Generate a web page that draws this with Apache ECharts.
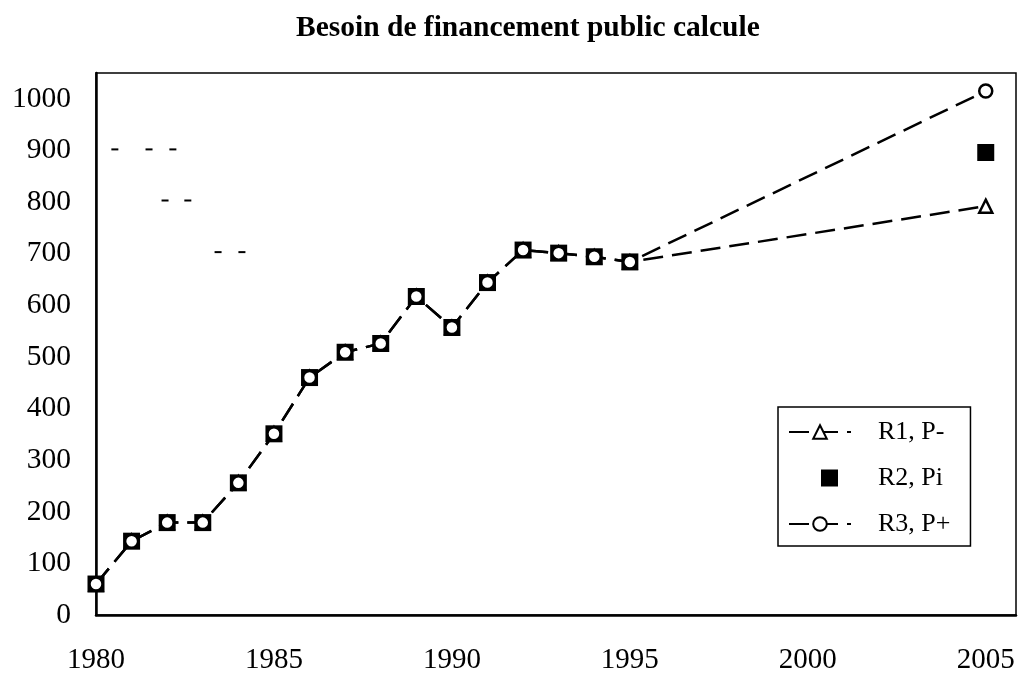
<!DOCTYPE html>
<html>
<head>
<meta charset="utf-8">
<script src="https://cdn.jsdelivr.net/npm/echarts@6/dist/echarts.min.js"></script>
<style>
  html, body { margin: 0; padding: 0; background: #fff; }
  #main { width: 1019px; height: 675px; }
</style>
</head>
<body>
<div id="main"></div>
<script>
// données
var years = [1980, 1981, 1982, 1983, 1984, 1985, 1986, 1987, 1988, 1989, 1990, 1991, 1992, 1993, 1994, 1995];
var hist = [60, 143, 179, 179, 256, 351, 460, 509, 526, 617, 557, 644, 707, 701, 694, 684];
var projYear = 2005;
var projR1 = 792;   // R1, P-
var projR2 = 896;   // R2, Pi
var projR3 = 1015;  // R3, P+
// petits traits parasites du scan (annee, valeur)
var traces = [[1980.53, 902], [1981.49, 902], [1982.16, 902], [1981.94, 803], [1982.58, 803], [1983.43, 703], [1984.1, 703]];
var xTicks = [1980, 1985, 1990, 1995, 2000, 2005];
var yTicks = [0, 100, 200, 300, 400, 500, 600, 700, 800, 900, 1000];

function buildSeries(extra) {
    var d = years.map(function (y, i) { return [y, hist[i]]; });
    d.push([projYear, extra]);
    return d;
}

var font = 'Liberation Serif';
var myChart = echarts.init(document.getElementById('main'));

var option = {
    backgroundColor: '#fff',
    animation: false,
    title: {
        text: 'Besoin de financement public calcule',
        left: 296,
        top: 13,
        padding: 0,
        textStyle: { fontFamily: font, fontSize: 29.5, fontWeight: 'bold', color: '#000' }
    },
    legend: {
        orient: 'vertical',
        left: 778,
        top: 407,
        padding: [12, 20, 9, 10],
        itemGap: 20,
        itemWidth: 62,
        itemHeight: 17,
        borderColor: '#000',
        borderWidth: 1.5,
        textStyle: { fontFamily: font, fontSize: 26, color: '#000', padding: [0, 0, 0, 22] },
        data: [
            { name: 'R1, P-' },
            // carré seul, centré dans la zone de l'icône
            { name: 'R2, Pi', icon: 'path://M0,0 M32,0 h17 v17 h-17 z M62,17' },
            { name: 'R3, P+' }
        ]
    },
    grid: {
        left: 96,
        right: 2,
        top: 73,
        bottom: 52,
        show: true,
        borderColor: '#000',
        borderWidth: 1.5
    },
    xAxis: {
        type: 'value',
        min: 1980,
        max: 2005.85,
        interval: 5,
        axisLine: { lineStyle: { color: '#000', width: 2.5 } },
        axisTick: { show: false },
        splitLine: { show: false },
        axisLabel: {
            margin: 31,
            fontFamily: font,
            fontSize: 29,
            color: '#000',
            formatter: function (v) { return xTicks.indexOf(v) >= 0 ? String(v) : ''; }
        }
    },
    yAxis: {
        type: 'value',
        min: 0,
        max: 1050,
        interval: 100,
        axisLine: { show: true, lineStyle: { color: '#000', width: 2.5 } },
        axisTick: { show: false },
        splitLine: { show: false },
        axisLabel: {
            margin: 25,
            fontFamily: font,
            fontSize: 29.5,
            color: '#000',
            formatter: function (v) { return yTicks.indexOf(v) >= 0 ? String(v) : ''; }
        }
    },
    series: [
        {
            name: 'traits',
            type: 'scatter',
            symbol: 'rect',
            symbolSize: [7, 2],
            itemStyle: { color: '#000', opacity: 1 },
            silent: true,
            data: traces,
            z: 1
        },
        {
            name: 'R1, P-',
            type: 'line',
            symbol: 'triangle',
            symbolSize: 13,
            showAllSymbol: true,
            lineStyle: { color: '#000', width: 2.5, type: [20, 9] },
            itemStyle: { color: '#fff', borderColor: '#000', borderWidth: 2.5 },
            data: buildSeries(projR1),
            z: 2
        },
        {
            name: 'R2, Pi',
            type: 'scatter',
            symbol: 'rect',
            symbolSize: 17,
            itemStyle: { color: '#000', opacity: 1 },
            data: buildSeries(projR2),
            z: 3
        },
        {
            name: 'R3, P+',
            type: 'line',
            symbol: 'circle',
            symbolSize: 13,
            showAllSymbol: true,
            lineStyle: { color: '#000', width: 2.5, type: [20, 9] },
            itemStyle: { color: '#fff', borderColor: '#000', borderWidth: 2.5 },
            data: buildSeries(projR3),
            z: 4
        }
    ]
};

myChart.setOption(option);
</script>
</body>
</html>
